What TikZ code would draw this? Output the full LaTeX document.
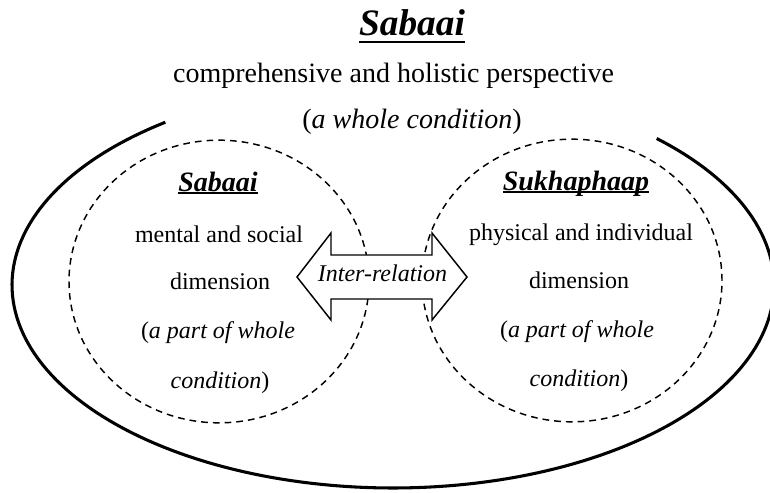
\documentclass[tikz,border=0pt]{standalone}
\usepackage{fontspec}
\setmainfont{Liberation Serif}
\usetikzlibrary{shapes.geometric}
\newcommand\myul[3]{\setbox0\hbox{#3}\rlap{\rule[-#1]{\wd0}{#2}}\box0}
\begin{document}
\begin{tikzpicture}[x=0.75pt,y=-0.75pt,
  txt/.style={inner sep=0pt, anchor=base, font=\fontsize{18}{20}\selectfont},
  bigtxt/.style={inner sep=0pt, anchor=base, font=\fontsize{21}{24}\selectfont},
  headtxt/.style={inner sep=0pt, anchor=base, font=\fontsize{21}{24}\selectfont\bfseries\itshape},
  titletxt/.style={inner sep=0pt, anchor=base, font=\fontsize{28}{32}\selectfont\bfseries\itshape},
  region/.style={draw, ellipse, inner sep=0pt, line width=1.1pt, dash pattern=on 5pt off 3.8pt,
                 minimum width=225pt, minimum height=212pt},
  outerline/.style={line width=2.3pt},
  arrowshape/.style={draw, line width=1.1pt, fill=white, line join=miter}]
\useasboundingbox (0,0) rectangle (770,492);
\clip (0,0) rectangle (770,492);

% outer open ellipse
\draw[outerline] plot[domain=233.3:-46.2, samples=180] ({393+381*cos(\x)},{285+203*sin(\x)});

% inner dashed regions
\node[region] (left) at (219,281.5) {};
\node[region] (right) at (572,280.5) {};

% double arrow
\draw[arrowshape] (297,277) -- (331,233) -- (331,255) -- (432,255) -- (432,233) -- (467,277)
  -- (432,320) -- (432,299) -- (331,299) -- (331,320) -- cycle;
\node[txt, font=\fontsize{18}{20}\selectfont\itshape] (rel) at (382.5,281) {Inter-relation};

% top texts
\node[titletxt] (title) at (412,36) {\myul{5.5pt}{2pt}{Sabaai}};
\node[bigtxt] (comp) at (393.5,82) {comprehensive and holistic perspective};
\node[bigtxt] (whole) at (412,128) {(\textit{a whole condition})};

% left texts
\node[headtxt] (ls) at (218,191) {\myul{2.6pt}{1.5pt}{Sabaai}};
\node[txt] (l1) at (219,242) {mental and social};
\node[txt] (l2) at (220,289) {dimension};
\node[txt] (l3) at (218,338) {(\textit{a part of whole}};
\node[txt] (l4) at (220,388) {\textit{condition})};

% right texts
\node[headtxt] (rs) at (576,190) {\myul{2.6pt}{1.5pt}{Sukhaphaap}};
\node[txt] (r1) at (581,240) {physical and individual};
\node[txt] (r2) at (579,288) {dimension};
\node[txt] (r3) at (577,337) {(\textit{a part of whole}};
\node[txt] (r4) at (579,386) {\textit{condition})};
\end{tikzpicture}
\end{document}
